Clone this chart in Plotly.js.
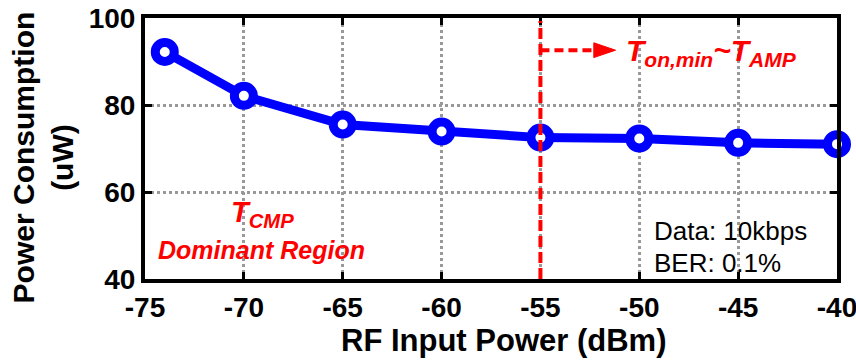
<!DOCTYPE html>
<html>
<head>
<meta charset="utf-8">
<script src="https://cdn.plot.ly/plotly-3.0.1.min.js"></script>
<style>html,body{margin:0;padding:0;background:#fff;}#chart{width:856px;height:364px;}</style>
</head>
<body>
<div id="chart"></div>
<script>
// Data
const rfInputPower = [-74, -70, -65, -60, -55, -50, -45, -40];
const powerConsumption = [92.2, 82.1, 75.5, 73.9, 72.5, 72.3, 71.3, 71.0];
const xTicks = [-75, -70, -65, -60, -55, -50, -45, -40];
const yTicks = [40, 60, 80, 100];
const boundaryX = -55;
const xTitle = 'RF Input Power (dBm)';
const yTitle = 'Power Consumption<br>(uW)';

const FONT = '"Liberation Sans", Arial, sans-serif';

const trace = {
  x: rfInputPower,
  y: powerConsumption,
  type: 'scatter',
  mode: 'lines+markers',
  line: {color: '#0000ff', width: 9},
  marker: {symbol: 'circle', size: 19, color: '#ffffff', line: {color: '#0000ff', width: 9}},
  cliponaxis: false,
  hoverinfo: 'x+y'
};

const layout = {
  width: 856, height: 364,
  margin: {l: 145, r: 19, t: 18, b: 85},
  paper_bgcolor: '#ffffff', plot_bgcolor: '#ffffff',
  showlegend: false,
  font: {family: FONT, color: '#000'},
  xaxis: {
    range: [-75, -40], tickvals: xTicks, ticktext: xTicks.map(String),
    showline: true, linecolor: '#000', linewidth: 4, mirror: 'ticks',
    ticks: 'inside', ticklen: 7, tickwidth: 3, tickcolor: '#000',
    showgrid: true, gridcolor: '#999999', gridwidth: 3, griddash: 'dot',
    zeroline: false, ticklabeloverflow: 'allow',
    tickfont: {family: FONT, size: 28, color: '#000', weight: 'bold'}
  },
  yaxis: {
    range: [40, 100], tickvals: yTicks, ticktext: yTicks.map(String),
    showline: true, linecolor: '#000', linewidth: 4, mirror: 'ticks',
    ticks: 'inside', ticklen: 7, tickwidth: 3, tickcolor: '#000',
    showgrid: true, gridcolor: '#999999', gridwidth: 3, griddash: 'dot',
    zeroline: false,
    tickfont: {family: FONT, size: 28, color: '#000', weight: 'bold'}
  },
  shapes: [
    {type: 'line', xref: 'x', yref: 'y', x0: boundaryX, x1: boundaryX, y0: 40, y1: 99.3,
     line: {color: '#ff0000', width: 4, dash: '11px,5px'}},
    {type: 'line', xref: 'x', yref: 'y', x0: boundaryX, x1: -52.2, y0: 92.6, y1: 92.6,
     line: {color: '#ff0000', width: 4, dash: '9px,5px'}},
    {type: 'path', xref: 'x', yref: 'y',
     path: 'M -52.3 94.3 L -51.2 92.6 L -52.3 90.9 Z',
     fillcolor: '#ff0000', line: {color: '#ff0000', width: 1}}
  ],
  annotations: [
    {xref: 'paper', yref: 'paper', x: 0.5175, y: -0.2375, xanchor: 'center', yanchor: 'middle', showarrow: false,
     text: '<b>' + xTitle + '</b>', font: {family: FONT, size: 31, color: '#000'}},
    {xref: 'paper', yref: 'paper', x: -0.147, y: 0.467, xanchor: 'center', yanchor: 'middle', showarrow: false,
     textangle: -90, text: '<b>' + yTitle.replace('<br>', '</b><br><b>') + '</b>', font: {family: FONT, size: 30, color: '#000'}},
    {xref: 'paper', yref: 'paper', x: 0.692, y: 0.867, xanchor: 'left', yanchor: 'middle', showarrow: false,
     text: '<b><i>T<sub>on,min</sub>~T<sub>AMP</sub></i></b>', font: {family: FONT, size: 30, color: '#ff0000'}},
    {xref: 'paper', yref: 'paper', x: 0.122, y: 0.25, xanchor: 'left', yanchor: 'middle', showarrow: false,
     text: '<b><i>T<sub>CMP</sub></i></b>', font: {family: FONT, size: 29, color: '#ff0000'}},
    {xref: 'paper', yref: 'paper', x: 0.016, y: 0.112, xanchor: 'left', yanchor: 'middle', showarrow: false,
     text: '<b><i>Dominant Region</i></b>', font: {family: FONT, size: 25, color: '#ff0000'}},
    {xref: 'paper', yref: 'paper', x: 0.733, y: 0.183, xanchor: 'left', yanchor: 'middle', showarrow: false,
     text: 'Data: 10kbps', font: {family: FONT, size: 26, color: '#000'}},
    {xref: 'paper', yref: 'paper', x: 0.733, y: 0.063, xanchor: 'left', yanchor: 'middle', showarrow: false,
     text: 'BER: 0.1%', font: {family: FONT, size: 26, color: '#000'}}
  ]
};

Plotly.newPlot('chart', [trace], layout, {displayModeBar: false, staticPlot: true});
</script>
</body>
</html>
